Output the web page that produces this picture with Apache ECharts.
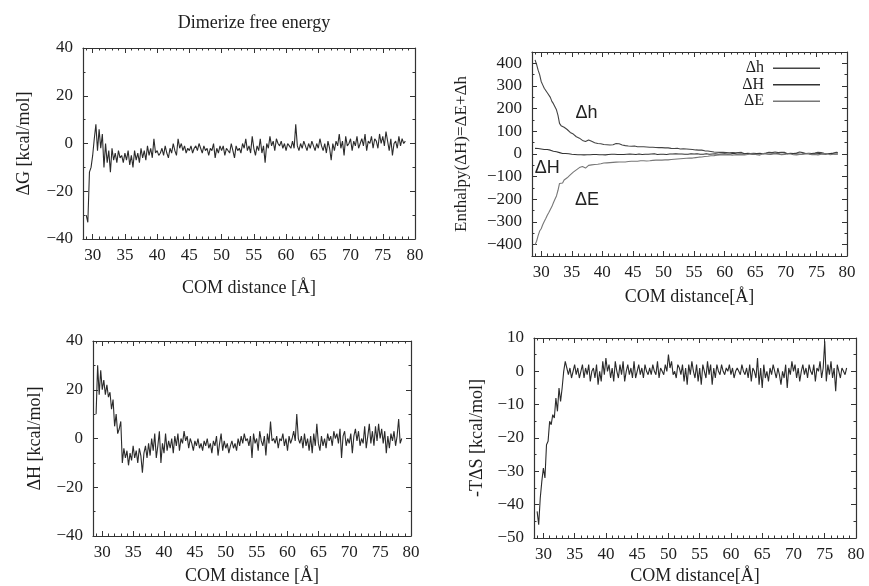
<!DOCTYPE html>
<html><head><meta charset="utf-8">
<script src="https://cdn.jsdelivr.net/npm/echarts@6/dist/echarts.min.js"></script>
<style>html,body{margin:0;padding:0;background:#fff}#c{width:869px;height:586px}</style>
</head><body><div id="c"></div>
<script>
// COM distance sample positions
const xs = [
29,29.25,29.5,29.75, 30,30.25,30.5,30.75, 31,31.25,31.5,31.75, 32,32.25,32.5,32.75,
33,33.25,33.5,33.75, 34,34.25,34.5,34.75, 35,35.25,35.5,35.75, 36,36.25,36.5,36.75,
37,37.25,37.5,37.75, 38,38.25,38.5,38.75, 39,39.25,39.5,39.75, 40,40.25,40.5,40.75,
41,41.25,41.5,41.75, 42,42.25,42.5,42.75, 43,43.25,43.5,43.75, 44,44.25,44.5,44.75,
45,45.25,45.5,45.75, 46,46.25,46.5,46.75, 47,47.25,47.5,47.75, 48,48.25,48.5,48.75,
49,49.25,49.5,49.75, 50,50.25,50.5,50.75, 51,51.25,51.5,51.75, 52,52.25,52.5,52.75,
53,53.25,53.5,53.75, 54,54.25,54.5,54.75, 55,55.25,55.5,55.75, 56,56.25,56.5,56.75,
57,57.25,57.5,57.75, 58,58.25,58.5,58.75, 59,59.25,59.5,59.75, 60,60.25,60.5,60.75,
61,61.25,61.5,61.75, 62,62.25,62.5,62.75, 63,63.25,63.5,63.75, 64,64.25,64.5,64.75,
65,65.25,65.5,65.75, 66,66.25,66.5,66.75, 67,67.25,67.5,67.75, 68,68.25,68.5,68.75,
69,69.25,69.5,69.75, 70,70.25,70.5,70.75, 71,71.25,71.5,71.75, 72,72.25,72.5,72.75,
73,73.25,73.5,73.75, 74,74.25,74.5,74.75, 75,75.25,75.5,75.75, 76,76.25,76.5,76.75,
77,77.25,77.5,77.75, 78,78.25,78.5
];

// Panel 1: ΔG
const dG = [
-30,-33,-12,-10, -5,2,8,-3, 6,-2,4,-10, 0,-8,-3,-12,
-2,-7,-4,-8, -3,-6,-5,-8, -4,-7,-3,-9, -5,-10,-3,-7,
-4,-8,-2,-6, -3,-7,-1,-5, -2,-6,2,-4, -3,-5,-4,-2,
-5,-1,-4,-6, -2,-4,0,-3, -5,2,-2,0, -3,-1,-4,-2,
-3,-1,-4,-2, -1,-3,0,-2, -4,-1,-3,-2, -5,-2,-3,0,
-6,-2,-4,-1, -3,-1,-5,-2, -2,-4,0,-3, -6,-1,-3,-2,
-4,0,-2,2, -3,-1,-4,3, -2,-5,-1,-3, 2,-4,-1,-8,
0,-2,3,-1, 1,-3,2,0, -1,1,-2,0, -3,0,-1,-2,
1,-2,8,-1, -3,0,-2,1, -1,-3,0,-2, 1,-1,-3,0,
-2,2,-1,-3, 0,-4,1,-2, -7,0,-3,1, -1,4,-2,1,
-5,3,-1,0, 2,-3,1,-1, 3,-2,0,2, -1,4,-3,1,
0,3,-2,2, 1,-2,4,0, 3,-1,5,1, -3,2,-5,0,
1,-2,3,-1, 2,0,1
];

// Panel 2: enthalpy decomposition
const dh = [
415,395,370,350, 320,305,290,282, 270,262,250,232, 222,215,195,170,
135,125,128,118, 115,108,100,95, 92,88,80,76, 78,70,65,60,
58,55,58,62, 62,56,52,50, 48,46,44,45, 44,42,40,41,
42,40,38,41, 44,46,48,45, 44,40,38,37, 36,35,36,34,
34,35,33,32, 33,32,31,32, 30,31,32,30, 29,30,28,29,
30,28,27,28, 28,27,26,27, 26,25,26,24, 24,25,23,22,
22,23,21,22, 20,21,19,20, 19,18,19,17, 16,17,15,14,
14,13,12,11, 10,9,10,8, 8,7,6,7, 5,6,4,5,
4,6,3,5, 2,6,3,7, 4,1,6,3, 7,2,5,3,
6,2,8,3, 5,1,7,4, 2,8,3,6, 4,9,2,6,
3,7,2,8, 5,1,6,3, 8,2,7,4, 3,9,2,6,
5,2,8,3, 7,2,9,4, 3,8,2,6, 9,3,7,2,
6,2,8,4, 5,8,6
];
const dHsum = [
25,28,24,26, 22,25,20,22, 20,18,17,15, 12,14,10,8,
6,4,2,3, 2,0,1,-2, -1,-3,-2,-4, -3,-5,-3,-4,
-4,-2,-3,-5, -3,-4,-2,-3, -2,-4,-3,-1, -3,-2,-4,-2,
-2,-3,-1,-2, -1,-3,-2,-1, -2,0,-2,-1, -1,-2,0,-1,
-1,0,-2,-1, 0,-1,-2,0, -1,0,-1,-2, 0,-1,1,-1,
-2,0,-1,0, -1,1,-2,0, 0,-1,0,-2, 1,-1,0,-1,
0,1,-1,0, -1,0,1,-1, 0,-2,1,0, -1,1,-1,0,
1,0,-1,1, 0,-1,1,0, -1,1,0,-1, 1,0,-1,2,
0,-1,3,0, -1,1,0,2, 0,-2,1,0, 1,0,-1,2,
-1,1,0,-1, 1,0,2,-1, 0,2,-1,1, 1,-1,2,0,
0,1,-1,2, 1,0,2,-1, 2,0,1,-1, 0,2,-1,1,
1,0,2,0, -1,1,0,2, 1,-1,2,0, 0,2,-1,1,
1,0,2,-1, 0,1,0
];
const dE = [
-400,-385,-360,-340, -330,-312,-298,-285, -270,-258,-245,-232, -215,-200,-185,-160,
-130,-122,-128,-115, -112,-105,-98,-92, -88,-80,-75,-70, -66,-60,-58,-55,
-58,-62,-55,-50, -46,-48,-44,-46, -50,-45,-42,-43, -42,-40,-41,-39,
-40,-38,-39,-37, -38,-36,-37,-35, -36,-35,-34,-35, -34,-33,-34,-32,
-33,-32,-31,-32, -31,-30,-31,-30, -30,-31,-29,-30, -29,-28,-29,-27,
-28,-27,-26,-27, -27,-26,-25,-26, -25,-24,-25,-23, -23,-22,-23,-21,
-21,-20,-21,-19, -19,-18,-17,-18, -17,-16,-15,-14, -14,-13,-12,-11,
-11,-10,-9,-8, -8,-7,-6,-5, -5,-4,-5,-3, -3,-4,-2,-3,
-2,-5,0,-3, -1,-4,1,-3, 0,-4,2,-2, -3,1,-4,0,
2,-3,0,-5, -1,2,-4,1, -3,0,-5,1, -2,2,-4,0,
1,-3,2,-2, -4,1,-2,0, 2,-3,1,-4, 0,-2,3,-1,
-3,1,-4,2, 0,-3,1,-2, 2,-4,0,-1, -3,1,-2,2,
0,-3,1,-1, 2,-1,0
];

// Panel 3: ΔH
const dH = [
10,30,18,28, 20,24,18,22, 17,19,12,16, 5,10,2,4,
7,-10,-4,-8, -5,-11,-6,-9, -3,-8,-5,-10, -4,-7,-14,-6,
-3,-8,-2,-7, 0,-5,2,-8, -3,3,-10,-2, -6,2,-5,-1,
-4,0,-6,1, -3,2,-5,0, -2,3,-1,1, -4,0,-2,-5,
-1,-3,0,-4, -2,-5,-1,-3, 0,-4,-2,-6, -1,-3,1,-7,
-2,2,-5,-1, -4,-2,-6,-3, -1,-4,-2,-5, 0,-3,1,-2,
2,-1,0,-3, 1,-8,2,-2, 0,-5,3,-1, -3,1,-7,2,
-2,7,-1,0, -2,1,-4,0, -1,2,-3,0, -5,1,-2,0,
3,-1,10,0, -2,1,-4,2, -3,0,-5,1, -6,2,-3,6,
-2,-5,1,-3, 0,-4,2,-1, 1,-3,3,0, 2,-2,4,-8,
1,3,-3,0, -2,2,-6,1, 4,-1,3,-3, 0,-2,5,-4,
1,6,-2,3, -3,5,-1,6, 0,4,-2,3, -6,1,-4,2,
-1,3,-3,1, 8,-2,0
];

// Panel 4: -TΔS
const mTdS = [
-42,-46,-38,-33, -29,-32,-22,-21, -15,-16,-13,-14, -8,-12,-5,-9,
-5,0,3,1, -1,1,-2,0, 2,-1,1,-2, 0,2,-2,1,
-1,2,-3,0, 1,-2,2,-4, 0,-3,3,-1, 4,0,2,-2,
1,-3,3,0, -2,2,-1,3, -3,0,2,-1, 1,-2,3,-2,
0,2,-1,1, -2,2,0,-1, 1,-1,2,0, -1,3,-2,1,
0,-1,2,0, 5,1,3,-1, 0,-2,2,1, -1,2,-3,1,
-4,2,-1,3, 0,-2,2,-3, 1,-4,2,0, -2,3,-1,2,
-4,1,-2,2, 0,-1,2,0, -1,1,0,2, -1,1,-2,0,
1,0,-1,2, 0,-1,1,-2, 2,-3,1,0, -2,4,-4,1,
-5,2,-2,0, -3,1,-1,2, 0,-2,1,-1, -4,0,-2,2,
-5,1,-1,3, 0,2,-2,1, -3,0,2,-1, 1,-2,2,0,
-1,2,-3,1, 0,3,-2,1, 9,-3,2,-1, 3,-2,1,-6,
2,0,-2,1, 0,-1,1
];

// tick labels
const xMajor = [30,35,40,45,50,55,60,65,70,75,80];
const xMinor = [29,31,32,33,34,36,37,38,39,41,42,43,44,46,47,48,49,51,52,53,54,56,57,58,59,61,62,63,64,66,67,68,69,71,72,73,74,76,77,78,79];
const yMajorG = [-40,-20,0,20,40];
const yMinorG = [-30,-10,10,30];
const yMajorEnth = [-400,-300,-200,-100,0,100,200,300,400];
const yMinorEnth = [-350,-250,-150,-50,50,150,250,350];
const yMajorTS = [-50,-40,-30,-20,-10,0,10];
const yMinorTS = [-45,-35,-25,-15,-5,5];
const seriesNames = ['Δh','ΔH','ΔE'];

const SERIF = 'Liberation Serif';
const AX = '#333';
const TXT = '#1e1e1e';
const LBL = 17, NAME = 18;

function pairs(ys){ return xs.map((x,i)=>[x, ys[i]]); }

const xAxes = [], yAxes = [];
function addAxes(g, xr, yr, xMaj, xMin, yMaj, yMin, xName, yName, xGap, yGap, yNameSize) {
  const base = {gridIndex:g, type:'value', splitLine:{show:false}, scale:true};
  const xi = xAxes.length;
  const xcommon = Object.assign({}, base, {min:xr[0], max:xr[1]});
  xAxes.push(Object.assign({}, xcommon, {position:'bottom',
    axisLine:{show:true, onZero:false, lineStyle:{color:AX, width:1.2}},
    axisTick:{show:true, inside:true, length:5, customValues:xMaj, lineStyle:{color:AX}},
    axisLabel:{show:true, customValues:xMaj, margin:8, fontFamily:SERIF, fontSize:LBL, color:TXT},
    name:xName, nameLocation:'middle', nameGap:xGap, nameTextStyle:{fontFamily:SERIF, fontSize:NAME, color:TXT}
  }));
  xAxes.push(Object.assign({}, xcommon, {position:'bottom',
    axisLine:{show:false, onZero:false}, axisLabel:{show:false},
    axisTick:{show:true, inside:true, length:2.5, customValues:xMin, lineStyle:{color:AX}}}));
  xAxes.push(Object.assign({}, xcommon, {position:'top',
    axisLine:{show:true, onZero:false, lineStyle:{color:AX, width:1.2}}, axisLabel:{show:false},
    axisTick:{show:true, inside:true, length:5, customValues:xMaj, lineStyle:{color:AX}}}));
  xAxes.push(Object.assign({}, xcommon, {position:'top',
    axisLine:{show:false, onZero:false}, axisLabel:{show:false},
    axisTick:{show:true, inside:true, length:2.5, customValues:xMin, lineStyle:{color:AX}}}));
  const yi = yAxes.length;
  const ycommon = Object.assign({}, base, {min:yr[0], max:yr[1]});
  yAxes.push(Object.assign({}, ycommon, {position:'left',
    axisLine:{show:true, onZero:false, lineStyle:{color:AX, width:1.2}},
    axisTick:{show:true, inside:true, length:5, customValues:yMaj, lineStyle:{color:AX}},
    axisLabel:{show:true, customValues:yMaj, margin:10, fontFamily:SERIF, fontSize:LBL, color:TXT,
      formatter:v=>String(v).replace('-','\u2212')},
    name:yName, nameLocation:'middle', nameGap:yGap, nameRotate:90,
    nameTextStyle:{fontFamily:SERIF, fontSize:yNameSize, color:TXT}
  }));
  yAxes.push(Object.assign({}, ycommon, {position:'left',
    axisLine:{show:false, onZero:false}, axisLabel:{show:false},
    axisTick:{show:true, inside:true, length:2.5, customValues:yMin, lineStyle:{color:AX}}}));
  yAxes.push(Object.assign({}, ycommon, {position:'right',
    axisLine:{show:true, onZero:false, lineStyle:{color:AX, width:1.2}}, axisLabel:{show:false},
    axisTick:{show:true, inside:true, length:5, customValues:yMaj, lineStyle:{color:AX}}}));
  yAxes.push(Object.assign({}, ycommon, {position:'right',
    axisLine:{show:false, onZero:false}, axisLabel:{show:false},
    axisTick:{show:true, inside:true, length:2.5, customValues:yMin, lineStyle:{color:AX}}}));
  return [xi, yi];
}

const XR = [28.5, 80];
const a1 = addAxes(0, XR, [-40,40], xMajor, xMinor, yMajorG, yMinorG, 'COM distance [Å]', 'ΔG [kcal/mol]', 40, 50, NAME);
const a2 = addAxes(1, XR, [-450,450], xMajor, xMinor, yMajorEnth, yMinorEnth, 'COM distance[Å]', 'Enthalpy(ΔH)=ΔE+Δh', 32, 62, 17);
const a3 = addAxes(2, XR, [-40,40], xMajor, xMinor, yMajorG, yMinorG, 'COM distance [Å]', 'ΔH [kcal/mol]', 31, 49, NAME);
const a4 = addAxes(3, XR, [-50,10], xMajor, xMinor, yMajorTS, yMinorTS, 'COM distance[Å]', '-TΔS [kcal/mol]', 29, 48, NAME);

function line(name, ys, ax, color, extra) {
  return Object.assign({type:'line', name:name, data:pairs(ys), xAxisIndex:ax[0], yAxisIndex:ax[1],
    showSymbol:false, symbol:'none', animation:false, silent:true,
    lineStyle:{color:color, width:1.1}, itemStyle:{color:color}}, extra||{});
}
function annot(name, x, y) {
  return {symbol:'circle', symbolSize:0, label:{show:true, position:'inside', formatter:name,
    fontFamily:'Liberation Sans', fontSize:18, color:'#222'}, coord:[x,y], value:name};
}

const option = {
  backgroundColor:'#fff',
  animation:false,
  title:{text:'Dimerize free energy', left:249, top:9, textAlign:'center',
    textStyle:{fontFamily:SERIF, fontSize:18, fontWeight:'normal', color:TXT}},
  grid:[
    {left:83, top:48, width:332, height:191},
    {left:532, top:52, width:315, height:204},
    {left:93, top:341, width:318, height:198},
    {left:534, top:338, width:322, height:200}
  ],
  xAxis:xAxes, yAxis:yAxes,
  legend:{data:seriesNames, orient:'vertical', right:44, top:55, align:'right',
    icon:'rect', itemWidth:47, itemHeight:1.5, itemGap:0,
    textStyle:{fontFamily:SERIF, fontSize:16, lineHeight:16.5, color:TXT, padding:[0,4,0,0]}},
  series:[
    line('ΔG', dG, a1, '#2b2b2b'),
    line(seriesNames[0], dh, a2, '#444', {markPoint:{silent:true, data:[annot('Δh',37.4,181)]}}),
    line(seriesNames[1], dHsum, a2, '#333', {markPoint:{silent:true, data:[annot('ΔH',31,-62)]}}),
    line(seriesNames[2], dE, a2, '#777', {markPoint:{silent:true, data:[annot('ΔE',37.5,-203)]}}),
    line('ΔH panel', dH, a3, '#2b2b2b'),
    line('-TΔS', mTdS, a4, '#2b2b2b')
  ]
};
const chart = echarts.init(document.getElementById('c'), null, {renderer:'canvas'});
chart.setOption(option);
</script></body></html>
